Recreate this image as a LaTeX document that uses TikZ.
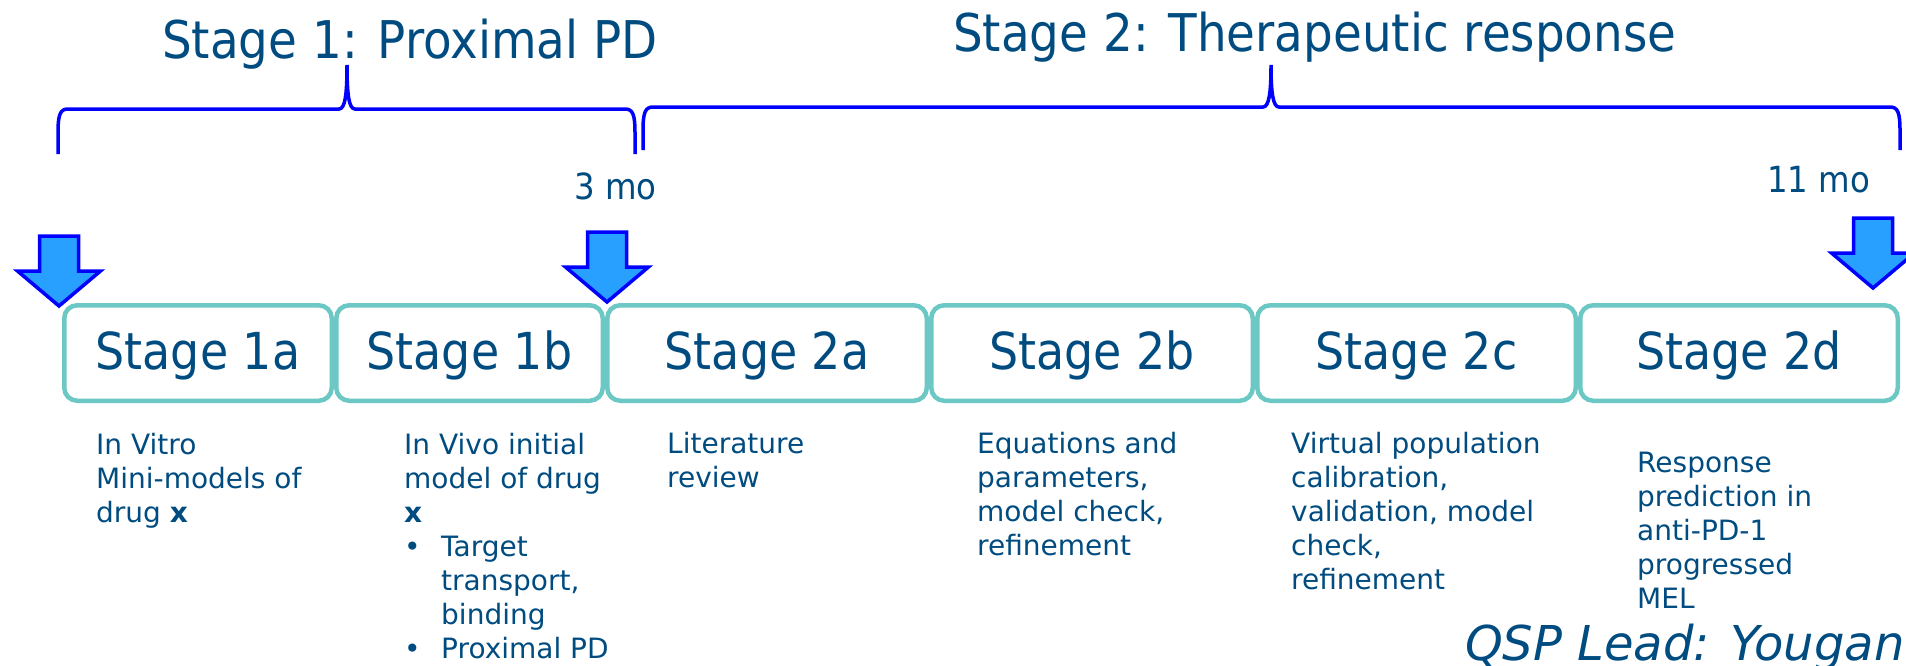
\documentclass[tikz,border=0pt]{standalone}
\usepackage{fontspec}
\setmainfont{DejaVu Sans}
\newfontfamily\condfont{DejaVu Sans}[FakeStretch=0.9]
\definecolor{txt}{RGB}{0,76,128}
\definecolor{tealbox}{RGB}{108,200,196}
\definecolor{arrfill}{RGB}{40,160,255}
\definecolor{brc}{RGB}{0,0,255}
\tikzset{
  stagebox/.style={draw=tealbox, line width=4.5pt, rounded corners=13pt, minimum height=95.5pt,
    inner sep=0pt, text=txt, font=\condfont\fontsize{51}{60}\selectfont, text height=44pt, text depth=12pt},
  body/.style={anchor=base west, inner sep=0pt, text=txt, font=\fontsize{28}{34}\selectfont},
  titletext/.style={anchor=base west, inner sep=0pt, text=txt, font=\condfont\fontsize{52}{60}\selectfont},
  motext/.style={anchor=base west, inner sep=0pt, text=txt, font=\condfont\fontsize{36}{40}\selectfont},
  bracestyle/.style={draw=brc, line width=3.5pt},
  dnarrow/.pic={\draw[draw=brc, fill=arrfill, line width=3.5pt, line join=miter]
    (-19.5,0) -- (19.5,0) -- (19.5,35) -- (41.5,35) -- (0,70) -- (-41.5,35) -- (-19.5,35) -- cycle;}
}
\newcommand{\bracepath}[6]{% x0 x1 ybottom yhoriz xmid ytip
  \draw[bracestyle] (#1,#3) -- (#1,#4+24) .. controls (#1,#4+6) and (#1+2,#4) .. (#1+10,#4)
    -- (#5-8,#4) .. controls (#5-2,#4) and (#5,#4-14) .. (#5,#6)
    .. controls (#5,#4-14) and (#5+2,#4) .. (#5+8,#4)
    -- (#2-10,#4) .. controls (#2-2,#4) and (#2,#4+6) .. (#2,#4+24) -- (#2,#3);}
\begin{document}
\begin{tikzpicture}[x=1pt,y=-1pt]
\useasboundingbox[fill=white] (0,0) rectangle (1906,665);

% titles
\node[titletext] (t1) at (162,58) {Stage 1: Proximal PD};
\node[titletext] (t2) at (953,51) {Stage 2: Therapeutic response};

% braces
\bracepath{58}{635}{154}{109}{347}{65}
\bracepath{643}{1900}{150}{107}{1271}{65}

% month labels
\node[motext] (m3) at (574,199) {3 mo};
\node[motext] (m11) at (1767,192) {11 mo};

% stage boxes
\node[stagebox, minimum width=267.5pt] (s1a) at (198,353) {Stage 1a};
\node[stagebox, minimum width=266.5pt] (s1b) at (469.5,353) {Stage 1b};
\node[stagebox, minimum width=319.5pt] (s2a) at (767,353) {Stage 2a};
\node[stagebox, minimum width=321.5pt] (s2b) at (1092,353) {Stage 2b};
\node[stagebox, minimum width=318.5pt] (s2c) at (1416.5,353) {Stage 2c};
\node[stagebox, minimum width=317.5pt] (s2d) at (1739,353) {Stage 2d};

% arrows
\pic (a1) at (59,236) {dnarrow};
\pic (a2) at (607,232) {dnarrow};
\pic (a3) at (1873,218) {dnarrow};

% descriptions
\node[body] (d1a) at (96,454) {\parbox[t]{300pt}{\raggedright In Vitro\\Mini-models of\\drug \textbf{x}}};
\node[body] (d1b) at (404,454) {\parbox[t]{300pt}{\raggedright In Vivo initial\\model of drug\\\textbf{x}\\
\makebox[37pt][l]{•}Target\\\hspace*{37pt}transport,\\\hspace*{37pt}binding\\
\makebox[37pt][l]{•}Proximal PD}};
\node[body] (d2a) at (667,453) {\parbox[t]{300pt}{\raggedright Literature\\review}};
\node[body] (d2b) at (977,453) {\parbox[t]{300pt}{\raggedright Equations and\\parameters,\\model check,\\refinement}};
\node[body] (d2c) at (1291,453) {\parbox[t]{300pt}{\raggedright Virtual population\\calibration,\\validation, model\\check,\\refinement}};
\node[body] (d2d) at (1637,472) {\parbox[t]{300pt}{\raggedright Response\\prediction in\\anti-PD-1\\progressed\\MEL}};

% lead
\node[anchor=base west, inner sep=0pt, text=txt, font=\itshape\fontsize{48}{56}\selectfont] (lead) at (1465,660) {QSP Lead: Yougan};
\end{tikzpicture}
\end{document}
